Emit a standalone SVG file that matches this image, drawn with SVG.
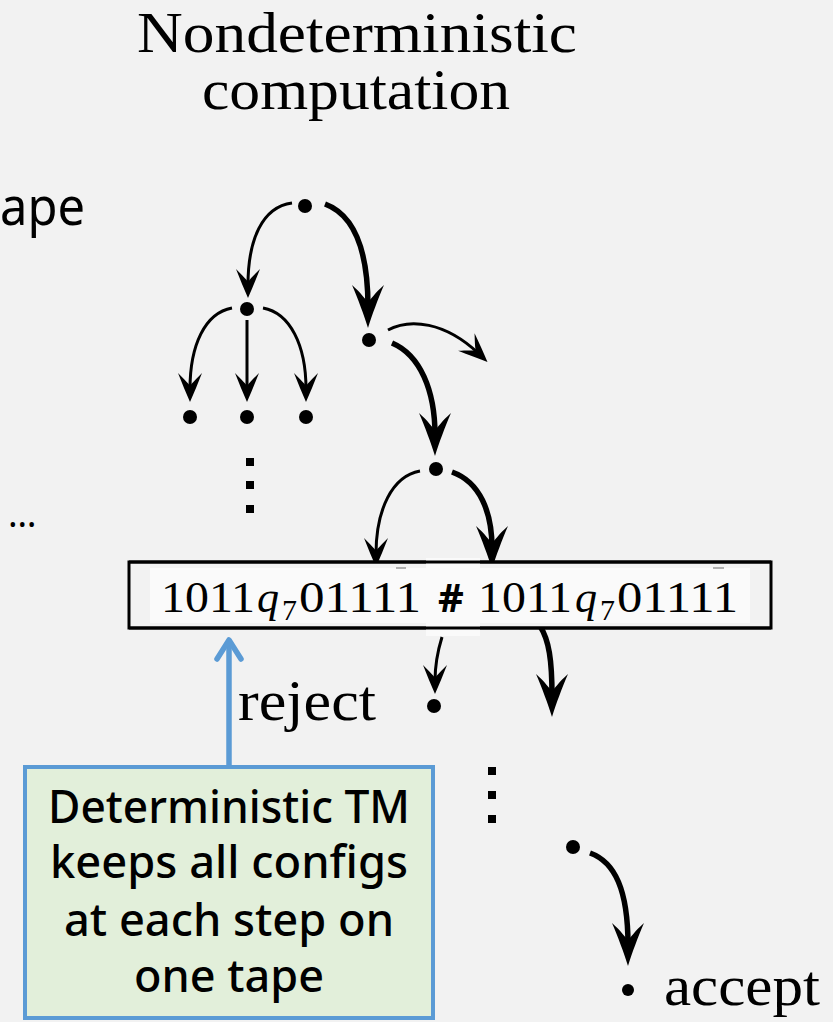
<svg xmlns="http://www.w3.org/2000/svg" width="833" height="1022" viewBox="0 0 833 1022">
<style>
.serif{font-family:"Liberation Serif","DejaVu Serif",serif;fill:#000}
.sans{font-family:"Noto Sans","Open Sans","DejaVu Sans",sans-serif;fill:#000}
.thin{fill:none;stroke:#000;stroke-width:3;marker-end:url(#ah)}
.thick{fill:none;stroke:#000;stroke-width:5.5;marker-end:url(#ahb)}
.dot{fill:#000}
.sq{fill:#000}
</style>
<defs>
<marker id="ah" markerUnits="userSpaceOnUse" markerWidth="40" markerHeight="40" refX="16" refY="0" orient="auto" overflow="visible">
<path d="M29,0 C20,-4 10,-8 0,-12 C6,-6 10,-2 13,0 C10,2 6,6 0,12 C10,8 20,4 29,0 Z" fill="#000"/>
</marker>
<marker id="ahb" markerUnits="userSpaceOnUse" markerWidth="60" markerHeight="60" refX="22" refY="0" orient="auto" overflow="visible">
<path d="M43,0 C30,-4 14,-10 0,-16 C8,-7 14,-3 17,0 C14,3 8,7 0,16 C14,10 30,4 43,0 Z" fill="#000"/>
</marker>
</defs>
<rect x="0" y="0" width="833" height="1022" fill="#f2f2f2"/>

<g id="title">
<text class="serif" x="137" y="52" font-size="56" textLength="440" lengthAdjust="spacingAndGlyphs">Nondeterministic</text>
<text class="serif" x="202" y="109" font-size="56" textLength="308" lengthAdjust="spacingAndGlyphs">computation</text>
</g>

<g id="tape-label">
<text class="sans" x="0" y="225" font-size="52" textLength="85" lengthAdjust="spacingAndGlyphs">ape</text>
</g>

<g id="ellipsis">
<text class="sans" x="8" y="527" font-size="36">…</text>
</g>

<g id="connectors">
<path class="thin" d="M292,203 C262,207 248,240 248,285"/>
<path class="thick" d="M325,204 C352,214 368,245 368,307"/>
<path class="thin" d="M232,308 C205,313 190,345 190,389"/>
<path class="thin" d="M247,320 L247,389"/>
<path class="thin" d="M263,308 C290,313 306,345 306,389"/>
<path class="thin" d="M388,330 C410,318 445,322 478,353"/>
<path class="thick" d="M392,343 C420,355 435,390 435,435"/>
<path class="thin" d="M420,471 C392,476 376,510 376,554"/>
<path class="thick" d="M452,472 C480,482 492,512 492,548"/>
<path class="thin" d="M442,637 C438,650 435,665 435,681"/>
<path class="thick" d="M540,626 C549,640 552,660 552,696"/>
<path class="thick" d="M590,853 C615,862 628,890 628,945"/>
<line x1="229" y1="766" x2="229" y2="642" stroke="#5b9bd5" stroke-width="5.5"/>
<polyline points="217,659 229,640 241,659" fill="none" stroke="#5b9bd5" stroke-width="5.5" stroke-linecap="round" stroke-linejoin="round"/>
</g>

<g id="tree-nodes">
<circle class="dot" cx="305" cy="206" r="7"/>
<circle class="dot" cx="247" cy="309" r="7"/>
<circle class="dot" cx="369" cy="340" r="7"/>
<circle class="dot" cx="190" cy="417" r="7"/>
<circle class="dot" cx="247" cy="417" r="7"/>
<circle class="dot" cx="306" cy="417" r="7"/>
<circle class="dot" cx="436" cy="469" r="7"/>
<rect class="sq" x="246" y="458" width="8" height="8"/>
<rect class="sq" x="246" y="481" width="8" height="8"/>
<rect class="sq" x="246" y="505" width="8" height="8"/>
</g>

<g id="tape">
<rect x="129" y="562" width="642" height="66" fill="#f2f2f2" stroke="#000" stroke-width="3"/>
<rect x="150" y="568" width="600" height="55" fill="#fafafa"/>
<rect x="426" y="558" width="54" height="78" fill="#fafafa"/>
<line x1="129" y1="562" x2="771" y2="562" stroke="#000" stroke-width="3"/>
<line x1="129" y1="628" x2="771" y2="628" stroke="#000" stroke-width="3"/>
<line x1="396" y1="568" x2="406" y2="568" stroke="#999" stroke-width="1.5"/>
<line x1="713" y1="568" x2="724" y2="568" stroke="#999" stroke-width="1.5"/>
<text class="serif" x="161" y="612" font-size="44" textLength="94" lengthAdjust="spacingAndGlyphs">1011</text>
<text class="serif" x="257" y="612" font-size="44" font-style="italic">q</text>
<text class="serif" x="282" y="620" font-size="30">7</text>
<text class="serif" x="299" y="612" font-size="44" textLength="122" lengthAdjust="spacingAndGlyphs">01111</text>
<text class="sans" x="438" y="612" font-size="40" font-weight="bold">#</text>
<text class="serif" x="478" y="612" font-size="44" textLength="94" lengthAdjust="spacingAndGlyphs">1011</text>
<text class="serif" x="575" y="612" font-size="44" font-style="italic">q</text>
<text class="serif" x="600" y="620" font-size="30">7</text>
<text class="serif" x="617" y="612" font-size="44" textLength="121" lengthAdjust="spacingAndGlyphs">01111</text>
</g>

<g id="reject">
<circle class="dot" cx="434" cy="706" r="7"/>
<text class="serif" x="238" y="720" font-size="56" textLength="138" lengthAdjust="spacingAndGlyphs">reject</text>
</g>

<g id="lower-nodes">
<rect class="sq" x="488" y="767" width="8" height="8"/>
<rect class="sq" x="488" y="791" width="8" height="8"/>
<rect class="sq" x="488" y="815" width="8" height="8"/>
<circle class="dot" cx="573" cy="847" r="7"/>
</g>

<g id="accept">
<circle class="dot" cx="628" cy="990" r="6"/>
<text class="serif" x="664" y="1005" font-size="56" textLength="156" lengthAdjust="spacingAndGlyphs">accept</text>
</g>

<g id="callout">
<rect x="25" y="767" width="408" height="251" fill="#e2efda" stroke="#5b9bd5" stroke-width="4"/>
<text class="sans" x="229" y="823" font-size="45" font-weight="500" text-anchor="middle" textLength="362" lengthAdjust="spacingAndGlyphs">Deterministic TM</text>
<text class="sans" x="229" y="878" font-size="45" font-weight="500" text-anchor="middle" textLength="358" lengthAdjust="spacingAndGlyphs">keeps all configs</text>
<text class="sans" x="229" y="936" font-size="45" font-weight="500" text-anchor="middle" textLength="330" lengthAdjust="spacingAndGlyphs">at each step on</text>
<text class="sans" x="229" y="992" font-size="45" font-weight="500" text-anchor="middle" textLength="190" lengthAdjust="spacingAndGlyphs">one tape</text>
</g>
</svg>
